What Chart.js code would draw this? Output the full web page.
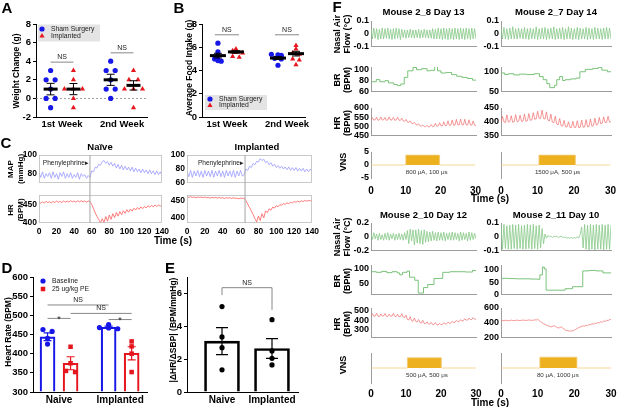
<!DOCTYPE html>
<html>
<head>
<meta charset="utf-8">
<title>VNS implant figure</title>
<script src="https://cdn.jsdelivr.net/npm/chart.js@4.4.1/dist/chart.umd.min.js"></script>
<style>
  html, body { margin: 0; padding: 0; background: #fff; }
  #fig { position: relative; width: 617px; height: 407px; overflow: hidden; font-family: "Liberation Sans", Arial, sans-serif; }
  #fig canvas { position: absolute; }
  .lbl { position: absolute; white-space: pre; font-weight: bold; color: #000; transform: translate(-50%, -50%); line-height: 1.1; text-align: center; }
  .lbl.rot { transform: translate(-50%, -50%) rotate(-90deg); }
</style>
</head>
<body>
<div id="fig"></div>
<script>
// ---------- A: weight change ----------
const weekLabels = ['1st Week', '2nd Week'];
const weightTicks = [-2, 0, 2, 4, 6, 8];
const weightSham1 = [3, 2, 2, 1, 0, 0, -1];
const weightImpl1 = [3, 2, 1, 1, 1, 0, -1];
const weightSham2 = [4, 3, 3, 2, 1, 1, 0];
const weightImpl2 = [3, 2, 2, 1, 1, 1, -1];
const weightShamMean = [1.0, 2.0];
const weightShamSem = [0.62, 0.6];
const weightImplMean = [1.0, 1.4];
const weightImplSem = [0.6, 0.5];
const weightNsY = [3.9, 4.9];

// ---------- B: food intake ----------
const foodTicks = [0, 2, 4, 6, 8];
const foodSham1 = [6.35, 5.6, 5.3, 5.0, 4.95, 4.85, 4.8];
const foodImpl1 = [5.85, 5.7, 5.6, 5.55, 5.5, 5.2, 5.15];
const foodSham2 = [5.4, 5.35, 5.3, 5.2, 5.05, 5.0, 4.45];
const foodImpl2 = [6.15, 5.85, 5.5, 5.4, 5.0, 4.9, 4.5];
const foodShamMean = [5.28, 5.07];
const foodShamSem = [0.2, 0.12];
const foodImplMean = [5.6, 5.45];
const foodImplSem = [0.1, 0.2];
const foodNsY = [7.07, 7.07];

// ---------- C: phenylephrine traces (2 s samples, 0-140 s) ----------
const cTimeTicks = [0, 20, 40, 60, 80, 100, 120, 140];
const peOnset = [58, 65];
const mapNaive = [81,76,82,75,80,77,81,75,82,76, 80,74,81,77,82,75,80,76,81,75, 79,76,81,74,80,77,79,75,78,
  76,83,82,87,86,90,89,93,94,91, 93,89,92,88,91,86,90,85,89,84, 88,84,87,83,87,82,86,82,85,81, 85,81,84,80,84,80,83,79,83,79, 82,78];
const mapImpl = [77,69,78,68,77,70,78,69,77,68, 78,70,77,69,78,68,77,70,78,69, 77,68,78,70,77,69,78,68,77,70, 78,70,
  72,80,78,84,82,88,86,91,90,95, 92,94,89,91,86,89,84,87,82,85, 81,84,80,83,79,83,78,82,78,82, 77,81,77,81,76,80,76,80,77];
const hrNaiveTrace = [458,455,459,456,460,457,459,456,460,457, 461,458,460,457,461,458,461,458,462,459, 461,458,462,459,462,459,461,458,461,
  460,452,440,428,418,410,400,412,402,418, 405,422,410,426,415,429,419,432,423,434, 427,437,430,439,433,441,436,443,438,445, 440,446,442,448,444,449,445,450,446,450, 447,450];
const hrImplTrace = [461,459,461,459,460,458,460,459,460,458, 460,458,459,457,459,458,459,457,459,457, 458,456,458,457,458,456,458,456,457,455, 457,456,457,
  450,440,430,420,410,398,388,405,392,412, 400,420,415,426,422,431,428,435,432,438, 436,441,439,443,441,445,443,447,445,448, 446,449,447,450,448,450,449,451];

// ---------- D: heart rate ----------
const groupLabels = ['Naive', 'Implanted'];
const hrTicks = [300, 350, 400, 450, 500, 550, 600];
const hrBaseNaive = [463, 458, 440, 425];
const hrBaseImpl = [476, 468, 467, 465];
const hrPeNaive = [418, 375, 355, 352];
const hrPeImpl = [432, 419, 400, 352];
const hrBaseMean = [444, 469];
const hrBaseSem = [10, 3];
const hrPeMean = [375, 401];
const hrPeSem = [17, 17];

// ---------- E: baroreflex slope ----------
const slopeTicks = [0, 2, 4, 6];
const slopeNaive = [5.2, 3.35, 2.7, 1.35];
const slopeImpl = [4.4, 2.5, 2.05, 1.65];
const slopeMean = [3.1, 2.65];
const slopeSem = [0.82, 0.6];

// ---------- F: VNS recordings (0.4 s samples, 0-30 s) ----------
const fTimeTicks = [0, 10, 20, 30];
const vnsTicks = [-5, 0, 5];
const vnsLabels = ['800 \u03bcA, 100 \u03bcs', '1500 \u03bcA, 500 \u03bcs', '500 \u03bcA, 500 \u03bcs', '80 \u03bcA, 1000 \u03bcs'];

const nasal28 = [0.04,-0.04,0.045,-0.035,0.04,-0.045,0.035,-0.04,0.045,-0.04, 0.04,-0.035,0.045,-0.04,0.035,-0.045,0.04,-0.04,0.045,-0.035,
  0.04,-0.045,0.035,-0.03,0.03,-0.035,0.03,-0.03,0.035,-0.03, 0.03,-0.035,0.03,-0.03,0.035,-0.035,0.03,-0.03,0.035,-0.03,
  0.03,-0.035,0.03,-0.035,0.04,-0.04,0.035,-0.04,0.045,-0.04, 0.04,-0.045,0.045,-0.04,0.04,-0.045,0.045,-0.04,0.04,-0.045,
  0.045,-0.04,0.04,-0.045,0.045,-0.04,0.04,-0.045,0.045,-0.04, 0.04,-0.045,0.045,-0.04,0.04,-0.04];
const nasal27 = [0.045,-0.04,0.05,-0.04,0.04,-0.045,0.045,-0.04,0.055,-0.04, 0.04,-0.04,0.045,-0.035,0.04,-0.04,0.05,-0.04,0.04,-0.045,
  0.045,-0.04,0.04,-0.04,0.055,-0.045,0.04,-0.04,0.045,-0.04, 0.05,-0.045,0.04,-0.04,0.045,-0.04,0.055,-0.045,0.04,-0.04,
  0.045,-0.04,0.05,-0.045,0.04,-0.04,0.055,-0.04,0.045,-0.045, 0.04,-0.04,0.05,-0.045,0.045,-0.04,0.04,-0.04,0.05,-0.045,
  0.045,-0.04,0.04,-0.045,0.05,-0.04,0.045,-0.04,0.04,-0.045, 0.045,-0.04,0.05,-0.04,0.045,-0.04];
const nasal210 = [0.05,-0.04,0.06,-0.03,0.04,-0.05,0.05,-0.04,0.03,-0.05, 0.05,-0.04,0.06,-0.05,0.04,-0.03,0.05,-0.05,0.04,-0.04,
  0.05,-0.04,0.04,-0.05,0.06,-0.04,0.09,-0.1,0.11,-0.06, 0.1,-0.12,0.1,-0.09,0.11,-0.1,0.09,-0.11,0.1,-0.08,
  0.08,-0.07,0.07,-0.06,0.08,-0.05,0.06,-0.06,0.07,-0.05, 0.06,-0.05,0.07,-0.06,0.05,-0.04,0.06,-0.05,0.07,-0.05,
  0.06,-0.04,0.05,-0.06,0.07,-0.05,0.06,-0.04,0.05,-0.06, 0.07,-0.05,0.06,-0.04,0.05,-0.03];
const nasal211 = [0.085,-0.09,0.09,-0.085,0.08,-0.09,0.085,-0.09,0.09,-0.085, 0.085,-0.09,0.09,-0.085,0.08,-0.09,0.085,-0.09,0.09,-0.085,
  0.085,-0.09,0.09,-0.085,0.08,-0.09,0.085,-0.08,0.06,-0.05, 0.02,-0.01,0.01,0.0,0.005,-0.005,0.005,0.0,0.005,-0.005,
  0.0,0.005,-0.005,0.0,-0.005,-0.01,-0.005,-0.01,-0.005,-0.01, -0.005,-0.01,0.0,-0.01,0.02,
  0.07,-0.08,0.09,-0.09,0.085,-0.095,0.09,-0.09,0.085,-0.095, 0.09,-0.09,0.085,-0.09,0.09,-0.095,0.085,-0.09,0.09,-0.09, 0.085];

const br28Time = [0, 1.5, 2.5, 4, 5, 6.5, 7.5, 8.5, 9.5, 10.5, 12, 13, 14.5, 16, 17, 18.2, 19, 20, 21.5, 23, 24.5, 26, 27.5, 29, 30];
const br28 = [78, 82, 78, 80, 76, 73, 71, 74, 86, 98, 104, 100, 102, 98, 99, 107, 98, 94, 95, 91, 88, 86, 84, 81, 81];
const br27Time = [0, 1, 2, 3.5, 5, 7, 9, 10.5, 11.5, 12.5, 13.3, 14.6, 15.2, 16, 16.8, 17.5, 19, 20.5, 21.5, 23, 25, 26.5, 27.5, 29, 30];
const br27 = [97, 93, 95, 92, 94, 93, 95, 88, 80, 70, 60, 66, 80, 88, 78, 80, 82, 84, 100, 106, 108, 111, 104, 100, 100];
const br210Time = [0, 1.5, 3, 4.5, 6, 7.5, 8.2, 9, 10.3, 11, 12.5, 13.5, 15, 16.2, 18, 20.5, 22.5, 25, 27, 29, 30];
const br210 = [90, 88, 91, 87, 90, 86, 80, 88, 92, 72, 62, 20, 38, 48, 68, 88, 90, 90, 89, 94, 94];
const br211Time = [0, 2, 4, 6, 8, 10, 10.6, 11.3, 11.8, 12.3, 15, 17.5, 19.5, 22.3, 24, 26, 27.8, 30];
const br211 = [66, 65, 64, 64, 63, 62, 80, 112, 104, 18, 18, 24, 32, 96, 98, 96, 88, 88];

const hr28 = [535,548,534,536,550,533,535,551,534,536, 549,533,535,552,534,536,549,533,535,550,
  534,533,545,530,528,538,524,522,530,517, 514,522,510,507,514,503,501,508,499,498,
  506,497,498,510,499,500,516,501,502,520, 503,503,525,504,505,530,505,506,535,507,
  507,538,508,508,540,508,509,539,508,508, 536,507,507,530,506,505];
const hr27 = [398,420,400,397,425,399,401,422,398,400, 426,400,402,424,401,403,428,402,404,430,
  405,407,433,409,411,438,412,413,442,412, 410,436,406,403,428,399,396,420,392,389,
  412,386,384,405,382,381,400,380,379,402, 379,380,404,379,380,406,380,381,408,382,
  383,410,384,386,413,388,391,416,393,395, 418,397,398,420,399,400];
const hr210 = [445,470,442,446,475,444,440,468,445,447, 472,443,441,466,444,446,474,442,440,465,
  438,441,470,436,430,455,410,404,440,398, 392,425,388,384,410,378,372,400,368,365,
  385,362,360,380,358,356,378,355,352,370, 355,358,375,362,365,382,370,372,392,378,
  381,400,386,390,408,394,398,418,402,404, 425,408,410,430,412,415];
const hr211 = [428,430,429,435,428,430,429,436,430,431, 432,438,431,432,433,439,432,434,433,440,
  433,435,434,441,436,448,430,415,400,388, 378,368,360,352,345,350,360,352,340,330,
  335,345,330,315,300,295,290,288,292,290, 300,312,325,335,345,348,360,352,368,362,
  378,372,388,380,396,390,405,398,415,408, 425,418,435,428,445,440];

const vns28Time = [0, 10, 19.7, 30];
const vns28 = [0, 3.8, 0, 0];
const vns27Time = [0, 10.4, 20.4, 30];
const vns27 = [0, 3.8, 0, 0];
const vns210Time = [0, 10.4, 20.1, 30];
const vns210 = [0, 3.4, 0, 0];
const vns211Time = [0, 10.6, 20.7, 30];
const vns211 = [0, 3.6, 0, 0];

// sample grids of the recorded traces
const cTime = [];
for (let i = 0; i <= 70; i++) cTime.push(i * 2);
const fTime = [];
for (let i = 0; i <= 75; i++) fTime.push(Math.round(i * 4) / 10);

// ---------- drawing helpers ----------
const FONT = '"Liberation Sans", Arial, sans-serif';
const BLUE = '#1616e6', RED = '#e6161e';
const MAPC = '#9a9aff', HRC = '#ff5c5c';
const NASALC = '#86c886', BRC = '#6cbc6c', FHRC = '#f06c6c';
const VNSFILL = '#edb120', VNSLINE = '#f2cd78', AXGRAY = '#9c9c9c';

Chart.defaults.font.family = FONT;
Chart.defaults.color = '#000';

const fig = document.getElementById('fig');

function merge(a, b) {
  for (const k in b) {
    const v = b[k];
    if (v && typeof v === 'object' && !Array.isArray(v) && a[k] && typeof a[k] === 'object') merge(a[k], v);
    else a[k] = v;
  }
  return a;
}

function series(t, v) {
  return v.map((y, i) => ({x: t[i], y}));
}

// spread equal values sideways like a dot plot
function swarm(vals, center, tol, step) {
  return vals.map((v, i) => {
    const n = vals.filter(w => Math.abs(w - v) < tol).length;
    const k = vals.slice(0, i).filter(w => Math.abs(w - v) < tol).length;
    return {x: center + (k - (n - 1) / 2) * step, y: v};
  });
}

function label(text, x, y, size, rot, lh, weight) {
  const d = document.createElement('div');
  d.className = 'lbl' + (rot ? ' rot' : '');
  d.textContent = text;
  d.style.left = x + 'px';
  d.style.top = y + 'px';
  d.style.fontSize = size + 'px';
  if (lh) d.style.lineHeight = lh;
  if (weight) d.style.fontWeight = weight;
  fig.appendChild(d);
}

function txt(c, s, x, y, size, weight, align, base, color) {
  c.save();
  c.font = (weight || 'normal') + ' ' + size + 'px ' + FONT;
  c.fillStyle = color || '#000';
  c.textAlign = align || 'center';
  c.textBaseline = base || 'middle';
  c.fillText(s, x, y);
  c.restore();
}

// canvas placed so that the plot area lands on [x0, y0, x1, y1] of the page
function mount(area, yW, xH, cfg, pad) {
  pad = Object.assign({l: 0, t: 8, r: 12, b: 6}, pad || {});
  const [x0, y0, x1, y1] = area;
  const w = Math.round(x1 - x0 + yW + pad.l + pad.r);
  const h = Math.round(y1 - y0 + xH + pad.t + pad.b);
  const cv = document.createElement('canvas');
  cv.width = w; cv.height = h;
  cv.style.left = (x0 - yW - pad.l) + 'px';
  cv.style.top = (y0 - pad.t) + 'px';
  cv.style.width = w + 'px';
  cv.style.height = h + 'px';
  fig.appendChild(cv);
  const o = cfg.options = cfg.options || {};
  o.responsive = false;
  o.animation = false;
  o.events = [];
  o.layout = {padding: {left: pad.l, top: pad.t, right: pad.r, bottom: pad.b}};
  o.plugins = {legend: {display: false}, tooltip: {enabled: false}};
  o.scales.x.afterFit = s => { s.height = xH; };
  o.scales.y.afterFit = s => { s.width = yW; };
  return new Chart(cv, cfg);
}

function axis(min, max, ticks, extra) {
  return merge({
    type: 'linear', min, max, offset: false,
    afterBuildTicks: s => { s.ticks = ticks.map(v => ({value: v})); },
    grid: {display: false, drawTicks: false},
    border: {display: false},
    ticks: {font: {size: 9.5, weight: 'bold'}, color: '#000', padding: 2, maxRotation: 0, minRotation: 0, autoSkip: false}
  }, extra || {});
}

function catAxis(min, max, xs, names, size) {
  return axis(min, max, xs, {
    border: {display: true, color: '#000', width: 1},
    ticks: {font: {size: size || 9.5}, padding: 2, callback: v => names[xs.indexOf(v)] || ''}
  });
}

function valAxis(min, max, ticks, size) {
  return axis(min, max, ticks, {
    border: {display: true, color: '#000', width: 1},
    grid: {display: true, drawOnChartArea: false, drawTicks: true, tickLength: 3, color: '#000', lineWidth: 1},
    ticks: {font: {size: size || 9.5}, padding: 2}
  });
}

function meanSem(ch, xs, means, sems, halfW, capW, color, mw, ew) {
  const {x, y} = ch.scales, c = ch.ctx;
  c.save();
  c.strokeStyle = color;
  xs.forEach((xv, i) => {
    const px = x.getPixelForValue(xv);
    const pt = y.getPixelForValue(means[i] + sems[i]);
    const pb = y.getPixelForValue(means[i] - sems[i]);
    c.lineWidth = ew || 1;
    c.beginPath();
    c.moveTo(px, pt); c.lineTo(px, pb);
    c.moveTo(px - capW, pt); c.lineTo(px + capW, pt);
    c.moveTo(px - capW, pb); c.lineTo(px + capW, pb);
    c.stroke();
    if (halfW) {
      const pm = y.getPixelForValue(means[i]);
      c.lineWidth = mw;
      c.beginPath(); c.moveTo(px - halfW, pm); c.lineTo(px + halfW, pm); c.stroke();
    }
  });
  c.restore();
}

function bracket(ch, xa, xb, yv, text, size, drop) {
  const {x, y} = ch.scales, c = ch.ctx;
  const pa = x.getPixelForValue(xa), pb = x.getPixelForValue(xb), py = y.getPixelForValue(yv);
  c.save();
  c.strokeStyle = '#7a7a7a';
  c.lineWidth = 0.9;
  c.beginPath();
  if (drop) {
    c.moveTo(pa, y.getPixelForValue(drop[0])); c.lineTo(pa, py);
    c.lineTo(pb, py); c.lineTo(pb, y.getPixelForValue(drop[1]));
  } else {
    c.moveTo(pa, py); c.lineTo(pb, py);
  }
  c.stroke();
  c.restore();
  if (text === '*') txt(c, text, (pa + pb) / 2, py + 3.5, 9, 'normal', 'center', 'alphabetic', '#222');
  else txt(c, text, (pa + pb) / 2, py - 1.5, size, 'normal', 'center', 'bottom', '#222');
}

function legend(ch, items, ox, oy, rowH, box) {
  const c = ch.ctx, L = ch.chartArea.left + ox, T = ch.chartArea.top + oy;
  if (box) {
    c.save(); c.fillStyle = '#e4e4e4'; c.fillRect(L + box[0], T + box[1], box[2], box[3]); c.restore();
  }
  items.forEach((it, i) => {
    const yy = T + i * rowH;
    c.save();
    c.fillStyle = it.color; c.strokeStyle = it.color;
    Chart.helpers.drawPoint(c, {pointStyle: it.style, radius: it.r || 2.6, rotation: 0, borderWidth: 0}, L, yy);
    c.restore();
    txt(c, it.text, L + 9, yy, 6.8, 'normal', 'left', 'middle', '#222');
  });
}

const frame = {id: 'frame', afterDatasetsDraw(ch) {
  const a = ch.chartArea, c = ch.ctx;
  c.save(); c.strokeStyle = '#bcbcbc'; c.lineWidth = 0.8;
  c.strokeRect(a.left + 0.5, a.top + 0.5, a.right - a.left - 1, a.bottom - a.top - 1);
  c.restore();
}};

function peLine(t, below) {
  return {id: 'peLine', afterDatasetsDraw(ch) {
    const a = ch.chartArea, c = ch.ctx, px = ch.scales.x.getPixelForValue(t);
    c.save(); c.strokeStyle = '#a4a4a4'; c.lineWidth = 1;
    c.beginPath(); c.moveTo(px, a.top); c.lineTo(px, a.bottom + (below || 0)); c.stroke();
    c.restore();
  }};
}

function peText(t) {
  return {id: 'peText', afterDatasetsDraw(ch) {
    const px = ch.scales.x.getPixelForValue(t);
    txt(ch.ctx, 'Phenylephrine\u25B8', px - 1, ch.chartArea.top + 8, 6.6, 'normal', 'right', 'middle', '#222');
  }};
}

function vnsText(s, t) {
  return {id: 'vnsText', afterDatasetsDraw(ch) {
    txt(ch.ctx, s, ch.scales.x.getPixelForValue(t), ch.scales.y.getPixelForValue(0) + 7.5, 6.2, 'normal', 'center', 'middle', '#333');
  }};
}

function lineDs(data, color, w, extra) {
  return Object.assign({data, borderColor: color, borderWidth: w || 0.8, pointRadius: 0, fill: false, tension: 0}, extra || {});
}

function tracePlot(area, yR, yTicks, datasets, o) {
  o = o || {};
  return mount(area, o.yW || 30, o.xH || 0, {
    type: 'line',
    data: {datasets},
    options: {
      scales: {
        x: axis(0, o.xMax || 30, o.xTicks || fTimeTicks, {
          border: {display: !!o.xBorder, color: AXGRAY, width: 1},
          ticks: {display: !!o.xLabels, font: {size: o.xFont || 9.5}, padding: o.xPad || 5}
        }),
        y: axis(yR[0], yR[1], yTicks, {
          border: {display: o.yBorder !== false, color: AXGRAY, width: 1},
          ticks: {display: o.yLabels !== false, font: {size: o.yFont || 9}, padding: 2}
        })
      }
    },
    plugins: o.plugins || []
  }, o.pad);
}

// ---------- A ----------
const weekX = [1, 3];
mount([36, 24, 147, 117], 36, 20, {
  type: 'scatter',
  data: {datasets: [
    {data: [...swarm(weightSham1, weekX[0] - 0.38, 0.5, 0.3), ...swarm(weightSham2, weekX[1] - 0.38, 0.5, 0.3)],
     pointStyle: 'circle', pointRadius: 2.6, backgroundColor: BLUE, borderWidth: 0, pointBorderWidth: 0},
    {data: [...swarm(weightImpl1, weekX[0] + 0.38, 0.5, 0.3), ...swarm(weightImpl2, weekX[1] + 0.38, 0.5, 0.3)],
     pointStyle: 'triangle', pointRadius: 3, backgroundColor: RED, borderWidth: 0, pointBorderWidth: 0}
  ]},
  options: {scales: {x: catAxis(0.133, 3.83, weekX, weekLabels), y: valAxis(-2, 8, weightTicks)}},
  plugins: [{id: 'aDeco',
    beforeDatasetsDraw(ch) {
      const a = ch.chartArea, c = ch.ctx, y0 = ch.scales.y.getPixelForValue(0);
      c.save(); c.strokeStyle = '#8a8a8a'; c.lineWidth = 0.8; c.setLineDash([2, 2]);
      c.beginPath(); c.moveTo(a.left, y0); c.lineTo(a.right, y0); c.stroke(); c.restore();
      legend(ch, [{text: 'Sham Surgery', style: 'circle', color: BLUE}, {text: 'Implanted', style: 'triangle', color: RED, r: 3}], 6, 5, 7, [-4, -4.5, 62, 17]);
      weekX.forEach((xv, i) => bracket(ch, xv - 0.38, xv + 0.38, weightNsY[i], 'NS', 7));
    },
    afterDatasetsDraw(ch) {
      meanSem(ch, weekX.map(v => v - 0.38), weightShamMean, weightShamSem, 7, 4, '#000', 3);
      meanSem(ch, weekX.map(v => v + 0.38), weightImplMean, weightImplSem, 7, 4, '#000', 3);
    }
  }]
});

// ---------- B ----------
mount([202, 24, 305, 117], 30, 20, {
  type: 'scatter',
  data: {datasets: [
    {data: [...swarm(foodSham1, weekX[0] - 0.3, 0.12, 0.22), ...swarm(foodSham2, weekX[1] - 0.3, 0.12, 0.22)],
     pointStyle: 'circle', pointRadius: 2.6, backgroundColor: BLUE, borderWidth: 0, pointBorderWidth: 0},
    {data: [...swarm(foodImpl1, weekX[0] + 0.3, 0.12, 0.22), ...swarm(foodImpl2, weekX[1] + 0.3, 0.12, 0.22)],
     pointStyle: 'triangle', pointRadius: 3, backgroundColor: RED, borderWidth: 0, pointBorderWidth: 0}
  ]},
  options: {scales: {x: catAxis(0.17, 3.6, weekX, weekLabels), y: valAxis(0, 8, foodTicks)}},
  plugins: [{id: 'bDeco',
    beforeDatasetsDraw(ch) {
      legend(ch, [{text: 'Sham Surgery', style: 'circle', color: BLUE}, {text: 'Implanted', style: 'triangle', color: RED, r: 3}], 8, 75, 6.5, [-5, -4, 62, 15]);
      weekX.forEach((xv, i) => bracket(ch, xv - 0.4, xv + 0.4, foodNsY[i], 'NS', 7));
    },
    afterDatasetsDraw(ch) {
      meanSem(ch, weekX.map(v => v - 0.3), foodShamMean, foodShamSem, 8, 4, '#000', 3);
      meanSem(ch, weekX.map(v => v + 0.3), foodImplMean, foodImplSem, 8, 4, '#000', 3);
    }
  }]
});

// ---------- C ----------
const cCols = [
  {x0: 39, x1: 162, map: mapNaive, hr: hrNaiveTrace, mapR: [70, 100], mapT: [80, 100], hrR: [400, 478], hrT: [400, 450], pe: peOnset[0]},
  {x0: 187, x1: 312, map: mapImpl, hr: hrImplTrace, mapR: [60, 100], mapT: [60, 80, 100], hrR: [385, 466], hrT: [400, 450], pe: peOnset[1]}
];
cCols.forEach(cc => {
  tracePlot([cc.x0, 155, cc.x1, 183], cc.mapR, cc.mapT, [lineDs(series(cTime, cc.map), MAPC, 0.8)],
    {xMax: 140, xTicks: cTimeTicks, yBorder: false, yFont: 8.5, pad: {b: 12}, plugins: [frame, peLine(cc.pe, 12), peText(cc.pe)]});
  tracePlot([cc.x0, 195, cc.x1, 223], cc.hrR, cc.hrT, [lineDs(series(cTime, cc.hr), HRC, 0.8)],
    {xMax: 140, xTicks: cTimeTicks, xLabels: true, xFont: 8.5, xH: 16, xPad: 4, yBorder: false, yFont: 8.5, pad: {t: 12}, plugins: [frame, peLine(cc.pe)]});
});

// ---------- D ----------
const dX = [1, 3];
const dOff = 0.377;
mount([33, 277, 147, 392], 33, 14, {
  type: 'bar',
  data: {datasets: [
    {type: 'bar', data: dX.map((v, i) => ({x: v - dOff, y: hrBaseMean[i]})), base: 300, grouped: false, barThickness: 15,
     backgroundColor: 'rgba(255,255,255,0)', borderColor: BLUE, borderWidth: 1.5, order: 2},
    {type: 'bar', data: dX.map((v, i) => ({x: v + dOff, y: hrPeMean[i]})), base: 300, grouped: false, barThickness: 15,
     backgroundColor: 'rgba(255,255,255,0)', borderColor: RED, borderWidth: 1.5, order: 2},
    {type: 'scatter', data: [...swarm(hrBaseNaive, dX[0] - dOff, 8, 0.3), ...swarm(hrBaseImpl, dX[1] - dOff, 8, 0.3)],
     pointStyle: 'circle', pointRadius: 2.6, backgroundColor: BLUE, borderWidth: 0, pointBorderWidth: 0, order: 1},
    {type: 'scatter', data: [...swarm(hrPeNaive, dX[0] + dOff, 8, 0.3), ...swarm(hrPeImpl, dX[1] + dOff, 8, 0.3)],
     pointStyle: 'rect', pointRadius: 3.2, backgroundColor: RED, borderWidth: 0, pointBorderWidth: 0, order: 1}
  ]},
  options: {scales: {x: catAxis(0.147, 3.88, dX, groupLabels, 10), y: valAxis(300, 600, hrTicks, 9.5)}},
  plugins: [{id: 'dDeco',
    afterDatasetsDraw(ch) {
      meanSem(ch, dX.map(v => v - dOff), hrBaseMean, hrBaseSem, 0, 4, BLUE, 0, 1.2);
      meanSem(ch, dX.map(v => v + dOff), hrPeMean, hrPeSem, 0, 4, RED, 0, 1.2);
      bracket(ch, dX[0] - dOff, dX[1] - dOff, 527, 'NS', 7);
      bracket(ch, dX[0] + dOff, dX[1] + dOff, 505, 'NS', 7);
      bracket(ch, dX[0] - dOff, dX[0] + dOff, 492, '*', 9);
      bracket(ch, dX[1] - dOff, dX[1] + dOff, 489, '*', 9);
      legend(ch, [{text: 'Baseline', style: 'circle', color: BLUE}, {text: '25 ug/kg PE', style: 'rect', color: RED, r: 3.2}], 10, 4, 8);
    }
  }]
});

// ---------- E ----------
const eX = [1, 2];
mount([187, 277, 298, 392], 30, 14, {
  type: 'bar',
  data: {datasets: [
    {type: 'bar', data: eX.map((v, i) => ({x: v, y: slopeMean[i]})), base: 0, grouped: false, barThickness: 35,
     backgroundColor: 'rgba(255,255,255,0)', borderColor: '#000', borderWidth: 2, order: 2},
    {type: 'scatter', data: [...swarm(slopeNaive, eX[0], 0.05, 0.1), ...swarm(slopeImpl, eX[1], 0.05, 0.1)],
     pointStyle: 'circle', pointRadius: 2.6, backgroundColor: '#000', borderWidth: 0, pointBorderWidth: 0, order: 1}
  ]},
  options: {scales: {x: catAxis(0.3, 2.52, eX, groupLabels, 10), y: valAxis(0, 7, slopeTicks, 9.5)}},
  plugins: [{id: 'eDeco',
    afterDatasetsDraw(ch) {
      meanSem(ch, eX, slopeMean, slopeSem, 0, 6, '#000', 0, 1.2);
      bracket(ch, eX[0], eX[1], 6.35, 'NS', 7, [5.9, 5.0]);
    }
  }]
});

// ---------- F ----------
const fCols = [[371, 476], [501, 611]];
const fRows = [
  {nasal: [21, 48], br: [67, 93], hr: [108, 137], vns: [152, 178], title: 12, xPad: 7},
  {nasal: [223, 252], br: [265, 296], hr: [308, 339], vns: [353, 383], title: 215, xPad: 5}
];
const mice = [
  {title: 'Mouse 2_8 Day 13', col: 0, row: 0, nasal: nasal28, nasalR: [-0.1, 0.1], nasalT: [-0.1, 0, 0.1],
   brTime: br28Time, br: br28, brR: [60, 105], brT: [60, 80, 100], hr: hr28, hrR: [450, 600], hrT: [450, 500, 550, 600],
   vnsTime: vns28Time, vns: vns28, vnsLabels: true, text: vnsLabels[0], textT: 16},
  {title: 'Mouse 2_7 Day 14', col: 1, row: 0, nasal: nasal27, nasalR: [-0.1, 0.1], nasalT: [-0.1, 0, 0.1],
   brTime: br27Time, br: br27, brR: [50, 112], brT: [50, 100], hr: hr27, hrR: [350, 450], hrT: [350, 400, 450],
   vnsTime: vns27Time, vns: vns27, vnsLabels: false, text: vnsLabels[1], textT: 15.5},
  {title: 'Mouse 2_10 Day 12', col: 0, row: 1, nasal: nasal210, nasalR: [-0.2, 0.2], nasalT: [-0.2, 0, 0.2],
   brTime: br210Time, br: br210, brR: [15, 112], brT: [50, 100], hr: hr210, hrR: [220, 530], hrT: [300, 400, 500],
   vnsTime: vns210Time, vns: vns210, vnsLabels: false, text: vnsLabels[2], textT: 16},
  {title: 'Mouse 2_11 Day 10', col: 1, row: 1, nasal: nasal211, nasalR: [-0.1, 0.1], nasalT: [-0.1, 0, 0.1],
   brTime: br211Time, br: br211, brR: [0, 120], brT: [0, 50, 100], hr: hr211, hrR: [200, 600], hrT: [200, 400, 600],
   vnsTime: vns211Time, vns: vns211, vnsLabels: false, text: vnsLabels[3], textT: 15.5}
];
mice.forEach(m => {
  const [x0, x1] = fCols[m.col];
  const r = fRows[m.row];
  tracePlot([x0, r.nasal[0], x1, r.nasal[1]], m.nasalR, m.nasalT, [lineDs(series(fTime, m.nasal), NASALC, 0.8)], {xBorder: true});
  tracePlot([x0, r.br[0], x1, r.br[1]], m.brR, m.brT, [lineDs(series(m.brTime, m.br), BRC, 0.9, {stepped: true})], {xBorder: true});
  tracePlot([x0, r.hr[0], x1, r.hr[1]], m.hrR, m.hrT, [lineDs(series(fTime, m.hr), FHRC, 0.7)], {xBorder: true});
  tracePlot([x0, r.vns[0], x1, r.vns[1]], [-5, 5], vnsTicks,
    [lineDs(series(m.vnsTime, m.vns), VNSLINE, 0.8, {stepped: true, fill: 'origin', backgroundColor: VNSFILL})],
    {xLabels: true, xFont: 10, xH: 18, xPad: r.xPad, yLabels: m.vnsLabels, plugins: [vnsText(m.text, m.textT)]});
  label(m.title, (x0 + x1) / 2, r.title, 9.5);
});

// ---------- text ----------
label('A', 7, 8, 15);
label('B', 179, 8, 15);
label('C', 6, 143, 15);
label('D', 7, 268, 15);
label('E', 170, 268, 15);
label('F', 337, 7, 15);

label('Weight Change (g)', 17, 71, 8.5, true);
label('Average Food Intake (g)', 190, 68, 8.5, true);
label('Na\u00efve', 100, 147, 9.5);
label('Implanted', 257, 147, 9.5);
label('MAP\n(mmHg)', 16, 169, 8, true, 1.3);
label('HR\n(BPM)', 16, 210, 8, true, 1.3);
label('Time (s)', 173, 240, 10);
label('Heart Rate (BPM)', 9, 332, 8.5, true);
label('|\u0394HR/\u0394SBP| (BPM/mmHg)', 174, 330, 8.5, true);

fRows.forEach((r, i) => {
  label('Nasal Air\nFlow (\u00b0C)', 342, (r.nasal[0] + r.nasal[1]) / 2 - 1, 9, true, 1.15);
  label('BR\n(BPM)', 342, (r.br[0] + r.br[1]) / 2, 9, true, 1.15);
  label('HR\n(BPM)', 342, (r.hr[0] + r.hr[1]) / 2, 9, true, 1.15);
  label('VNS', 344, (r.vns[0] + r.vns[1]) / 2 - 3, 9, true);
  label('Time (s)', 490, i === 0 ? 198 : 402, 10);
});
</script>
</body>
</html>
